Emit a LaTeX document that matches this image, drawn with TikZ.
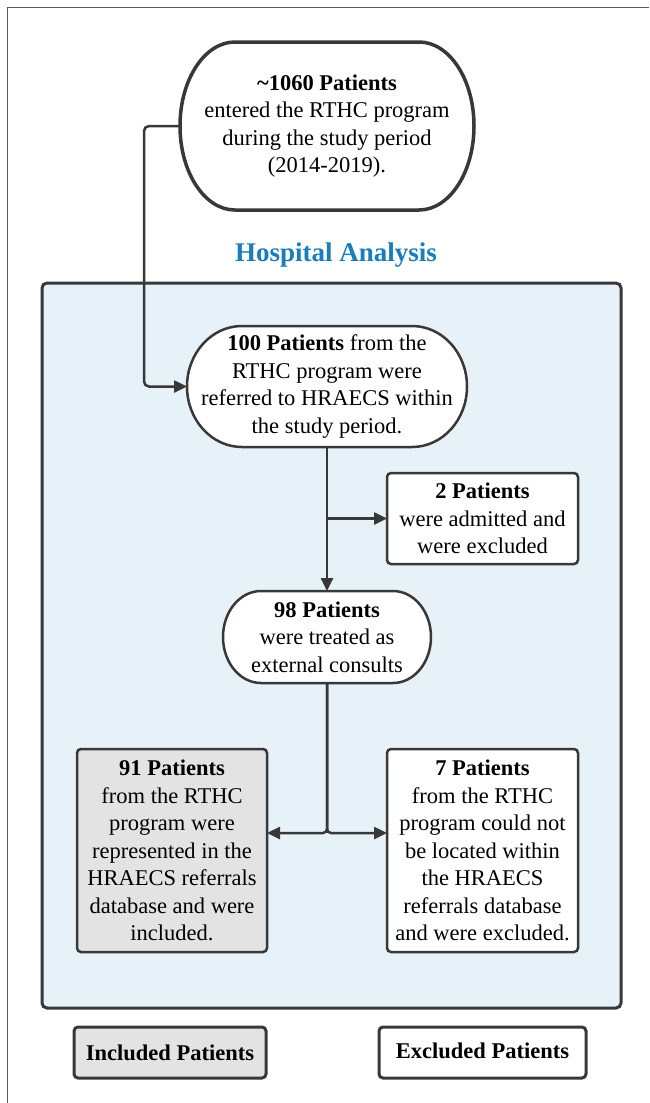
\documentclass[tikz,border=0pt]{standalone}
\usepackage{fontspec}
\setmainfont{Liberation Serif}
\usetikzlibrary{arrows.meta,calc}
\definecolor{linec}{HTML}{383838}
\definecolor{lightblue}{HTML}{E6F1F8}
\definecolor{grayfill}{HTML}{E3E3E3}
\definecolor{titleblue}{HTML}{1B7DBA}
\definecolor{framec}{HTML}{5A5A5A}
\pgfdeclarelayer{back}
\pgfdeclarelayer{mid}
\pgfsetlayers{back,mid,main}
\newcommand\drawstadium[4]{%
  \begin{pgfonlayer}{mid}
  \draw[line width=#4,draw=linec,fill=white] ([xshift=#2]#1.north west) -- ([xshift=-#2]#1.north east)
    arc[start angle=90,end angle=-90,x radius=#2,y radius=#3]
    -- ([xshift=#2]#1.south west)
    arc[start angle=270,end angle=90,x radius=#2,y radius=#3] -- cycle;
  \end{pgfonlayer}}
\tikzset{
  txt/.style={font=\fontsize{22.5}{27.5}\selectfont, align=center, inner sep=0pt, outer sep=0pt},
  stad/.style={txt, draw=none, rectangle},
  boxnode/.style={txt, draw=linec, line width=2.5pt, fill=white, rounded corners=4pt},
  legend/.style={boxnode, line width=3pt, font=\fontsize{22.5}{27.5}\selectfont\bfseries},
  arr/.style={draw=linec, line width=2.5pt, -{Triangle[length=13pt,width=12pt]}},
  conn/.style={draw=linec, line width=2.5pt},
}
\begin{document}
\begin{tikzpicture}[x=1pt,y=-1pt]
\useasboundingbox (0,0) rectangle (649,1103);
\begin{pgfonlayer}{back}
\fill[white] (0,0) rectangle (649,1103);
% outer frame (partly visible)
\draw[framec, line width=1.5pt] (7.5,1103) -- (7.5,7.5) -- (649,7.5);
% hospital analysis area
\draw[linec, line width=3pt, fill=lightblue, rounded corners=5pt] (42,283) rectangle (621,1008);
\end{pgfonlayer}
\node[font=\fontsize{27}{32}\selectfont\bfseries, text=titleblue, inner sep=0pt] (title) at (336,255) {Hospital Analysis};

% nodes
\node[stad, minimum width=294pt, minimum height=168pt] (top) at (327,126)
  {\textbf{\char`~1060 Patients}\\entered the RTHC program\\during the study period\\(2014-2019).};
\drawstadium{top}{55pt}{84pt}{3.5pt}
\node[stad, minimum width=280pt, minimum height=121pt] (n100) at (327,386.5)
  {\textbf{100 Patients} from the\\RTHC program were\\referred to HRAECS within\\the study period.};
\drawstadium{n100}{55pt}{60.5pt}{2.5pt}
\node[stad, minimum width=208pt, minimum height=92pt] (n98) at (327,637)
  {\textbf{98 Patients}\\were treated as\\external consults};
\drawstadium{n98}{38pt}{46pt}{2.5pt}
\node[boxnode, minimum width=191pt, minimum height=91pt] (n2) at (482.5,518.5)
  {\textbf{2 Patients}\\were admitted and\\were excluded};
\node[boxnode, fill=grayfill, minimum width=190pt, minimum height=203pt] (n91) at (172,850.5)
  {\textbf{91 Patients}\\from the RTHC\\program were\\represented in the\\HRAECS referrals\\database and were\\included.};
\node[boxnode, minimum width=191pt, minimum height=203pt] (n7) at (482.5,850.5)
  {\textbf{7 Patients}\\from the RTHC\\program could not\\be located within\\the HRAECS\\referrals database\\and were excluded.};
% legend
\node[legend, fill=grayfill, minimum width=192pt, minimum height=51pt] (inc) at (170,1052.5) {Included Patients};
\node[legend, minimum width=207pt, minimum height=51pt] (exc) at (482.5,1052.5) {\raisebox{3pt}{Excluded Patients}};

% connectors
\coordinate (c1) at (144,126);
\draw[arr, rounded corners=5pt] (top.west) -- (c1) |- (n100.west);
\draw[arr] (n100.south) -- (n98.north);
\draw[arr] (n100.south |- n2.west) -- (n2.west);
\coordinate (j) at (327,833);
\draw[arr, rounded corners=4pt] (n98.south) -- (j) -- (j -| n91.east);
\draw[arr, rounded corners=4pt] (n98.south) -- (j) -- (j -| n7.west);
\end{tikzpicture}
\end{document}
